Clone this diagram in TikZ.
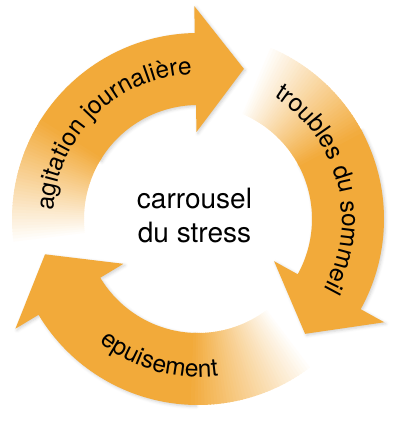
\documentclass[tikz,border=0pt]{standalone}
\usepackage{fontspec}
\setmainfont{TeX Gyre Heros}
\usetikzlibrary{decorations.text,shadows.blur}

\definecolor{stressorange}{RGB}{242,170,58}
\newcommand\arrowfont{\fontsize{24.5}{29}\selectfont}

\tikzset{
  pics/cyclearrow/.style={code={
    % body and head
    \fill[stressorange, blur shadow={shadow xshift=1.5pt, shadow yshift=-1.5pt, shadow opacity=18, shadow blur radius=3pt}]
      (149:114) arc[start angle=149, end angle=91, radius=114] -- (91:87) -- (73:157)
      -- (91:213) -- (91:186) arc[start angle=91, end angle=149, radius=186] -- cycle;
    % tail fading into white
    \foreach \s in {0,...,39}{
      \pgfmathsetmacro{\pc}{2.5*\s}
      \fill[stressorange!\pc!white] ({188-\s}:114) arc[start angle={188-\s}, end angle={186.7-\s}, radius=114]
        -- ({186.7-\s}:186) arc[start angle={186.7-\s}, end angle={188-\s}, radius=186] -- cycle;
    }
  }},
  arrowtext/.style={decorate, decoration={text along path, text align=center, text={|\arrowfont|#1}}}
}

\begin{document}
\begin{tikzpicture}[x=1pt, y=1pt]
\useasboundingbox (-198,-205) rectangle (202,219);

%%%%%
%% arrows
%%%%%
\pic (agitation) {cyclearrow};
\pic (troubles) [rotate=-120] {cyclearrow};
\pic (epuisement) [rotate=120] {cyclearrow};

%%%%%
%% labels
%%%%%
\path[arrowtext={agitation journalière}] (185:145) arc[start angle=185, end angle=84, radius=145];
\path[arrowtext={troubles du sommeil}] (65:144) arc[start angle=65, end angle=-36, radius=144];
\path[arrowtext={epuisement}] (214.5:158) arc[start angle=214.5, end angle=294.5, radius=158];

\node[font=\fontsize{28}{34}\selectfont, align=center, inner sep=0pt] (stress) at (-3.5,3) {carrousel\\du stress};

\end{tikzpicture}
\end{document}
